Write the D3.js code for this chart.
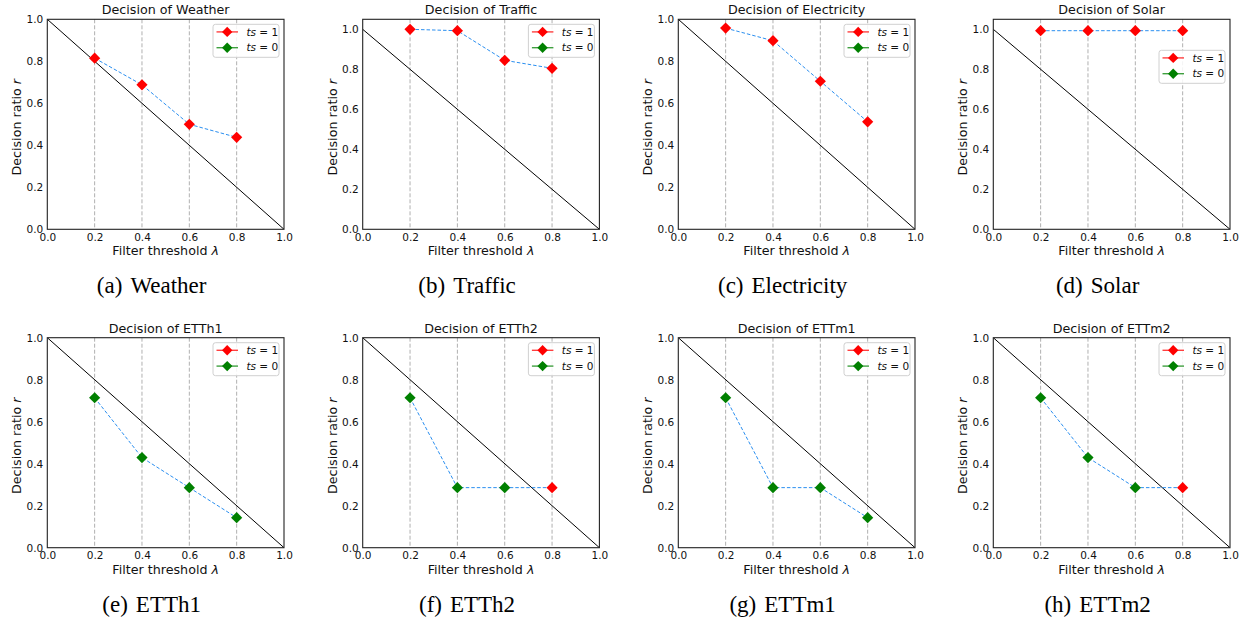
<!DOCTYPE html>
<html>
<head>
<meta charset="utf-8">
<script src="https://cdn.jsdelivr.net/npm/d3@7"></script>
<style>
  html, body { margin: 0; padding: 0; background: #fff; }
  svg { display: block; }
</style>
</head>
<body>
<svg id="chart" width="1247" height="622"></svg>
<script>
// ---------- data ----------
const datasets = ["Weather", "Traffic", "Electricity", "Solar", "ETTh1", "ETTh2", "ETTm1", "ETTm2"];
const letters = ["a", "b", "c", "d", "e", "f", "g", "h"];
const thresholds = [0.2, 0.4, 0.6, 0.8];
const xTicks = [0.0, 0.2, 0.4, 0.6, 0.8, 1.0];
const yTicks = [0.0, 0.2, 0.4, 0.6, 0.8, 1.0];
const yMax = [1.0, 1.05, 1.0, 1.05, 1.0, 1.0, 1.0, 1.0];

const ratioWeather     = [0.815, 0.688, 0.500, 0.438];
const ratioTraffic     = [1.000, 0.993, 0.845, 0.805];
const ratioElectricity = [0.958, 0.898, 0.705, 0.512];
const ratioSolar       = [0.993, 0.993, 0.993, 0.993];
const ratioETTh1       = [0.714, 0.429, 0.286, 0.143];
const ratioETTh2       = [0.714, 0.286, 0.286, 0.286];
const ratioETTm1       = [0.714, 0.286, 0.286, 0.143];
const ratioETTm2       = [0.714, 0.429, 0.286, 0.286];

const tsWeather     = [1, 1, 1, 1];
const tsTraffic     = [1, 1, 1, 1];
const tsElectricity = [1, 1, 1, 1];
const tsSolar       = [1, 1, 1, 1];
const tsETTh1       = [0, 0, 0, 0];
const tsETTh2       = [0, 0, 0, 1];
const tsETTm1       = [0, 0, 0, 0];
const tsETTm2       = [0, 0, 0, 1];

const ratios = [ratioWeather, ratioTraffic, ratioElectricity, ratioSolar, ratioETTh1, ratioETTh2, ratioETTm1, ratioETTm2];
const tsFlags = [tsWeather, tsTraffic, tsElectricity, tsSolar, tsETTh1, tsETTh2, tsETTm1, tsETTm2];
const legendLabels = ["1", "0"];

// ---------- layout ----------
const colLefts = [47.3, 362.7, 678.3, 993.3];
const rowTops = [19.3, 337.7];
const plotW = 236.7, plotH = 210;
const legendTopOffset = [5, 5, 5, 31, 5, 5, 5, 5];
const colorTs = { 1: "#ff0000", 0: "#008000" };
const sansFont = "DejaVu Sans, sans-serif";
const serifFont = "Liberation Serif, Times New Roman, serif";

const svg = d3.select("#chart");
const diamond = r => `M0,${-r}L${r},0L0,${r}L${-r},0Z`;

datasets.forEach((name, i) => {
  const col = i % 4, row = Math.floor(i / 4);
  const left = colLefts[col], top = rowTops[row];
  const x = d3.scaleLinear().domain([0, 1]).range([left, left + plotW]);
  const y = d3.scaleLinear().domain([0, yMax[i]]).range([top + plotH, top]);
  const g = svg.append("g");

  const clipId = "clip" + i;
  g.append("clipPath").attr("id", clipId).append("rect")
    .attr("x", left).attr("y", top).attr("width", plotW).attr("height", plotH);

  // vertical dashed grid
  g.selectAll(".vgrid").data(thresholds).enter().append("line")
    .attr("x1", d => x(d)).attr("x2", d => x(d))
    .attr("y1", top).attr("y2", top + plotH)
    .attr("stroke", "#b0b0b0").attr("stroke-width", 1)
    .attr("stroke-dasharray", "4,2");

  // diagonal reference line
  g.append("line")
    .attr("x1", x(0)).attr("y1", y(1)).attr("x2", x(1)).attr("y2", y(0))
    .attr("stroke", "#000").attr("stroke-width", 1)
    .attr("clip-path", `url(#${clipId})`);

  // dashed connecting line
  const pts = thresholds.map((t, k) => ({ t, r: ratios[i][k], ts: tsFlags[i][k] }));
  g.append("path").datum(pts)
    .attr("d", d3.line().x(d => x(d.t)).y(d => y(d.r)))
    .attr("fill", "none").attr("stroke", "#2b8ff0").attr("stroke-width", 1)
    .attr("stroke-dasharray", "3.5,2");

  // markers
  g.selectAll(".mk").data(pts).enter().append("path")
    .attr("d", diamond(5.6))
    .attr("transform", d => `translate(${x(d.t)},${y(d.r)})`)
    .attr("fill", d => colorTs[d.ts]);

  // frame
  g.append("rect").attr("x", left).attr("y", top).attr("width", plotW).attr("height", plotH)
    .attr("fill", "none").attr("stroke", "#222").attr("stroke-width", 1.1);

  // axes (no tick marks)
  const xAxis = d3.axisBottom(x).tickValues(xTicks).tickFormat(d3.format(".1f")).tickSize(0).tickPadding(4);
  const yAxis = d3.axisLeft(y).tickValues(yTicks).tickFormat(d3.format(".1f")).tickSize(0).tickPadding(4);
  const gx = g.append("g").attr("transform", `translate(0,${top + plotH})`).call(xAxis);
  const gy = g.append("g").attr("transform", `translate(${left},0)`).call(yAxis);
  [gx, gy].forEach(a => {
    a.select(".domain").remove();
    a.selectAll("text").attr("font-family", sansFont).attr("font-size", 10.5).attr("fill", "#111");
  });

  // title
  g.append("text").attr("x", left + plotW / 2).attr("y", top - 5)
    .attr("text-anchor", "middle").attr("font-family", sansFont).attr("font-size", 12.7)
    .attr("fill", "#111").text("Decision of " + name);

  // x label
  const xl = g.append("text").attr("x", left + plotW / 2).attr("y", top + plotH + 26)
    .attr("text-anchor", "middle").attr("font-family", sansFont).attr("font-size", 12.7).attr("fill", "#111");
  xl.append("tspan").text("Filter threshold ");
  xl.append("tspan").attr("font-style", "italic").text("λ");

  // y label
  const yl = g.append("text")
    .attr("transform", `translate(${left - 26},${top + plotH / 2 + 3}) rotate(-90)`)
    .attr("text-anchor", "middle").attr("font-family", sansFont).attr("font-size", 12.7).attr("fill", "#111");
  yl.append("tspan").text("Decision ratio ");
  yl.append("tspan").attr("font-style", "italic").text("r");

  // legend
  const lw = 66, lh = 33;
  const lx = left + plotW - 5 - lw, ly = top + legendTopOffset[i];
  const lg = g.append("g");
  lg.append("rect").attr("x", lx).attr("y", ly).attr("width", lw).attr("height", lh)
    .attr("rx", 2.5).attr("fill", "#fff").attr("fill-opacity", 0.85)
    .attr("stroke", "#d0d0d0").attr("stroke-width", 1);
  legendLabels.forEach((lab, k) => {
    const cy = ly + 7.6 + k * 15.8;
    const c = colorTs[+lab];
    lg.append("line").attr("x1", lx + 3.5).attr("x2", lx + 25).attr("y1", cy).attr("y2", cy)
      .attr("stroke", c).attr("stroke-width", 1.4).attr("stroke-opacity", 0.75);
    lg.append("path").attr("d", diamond(5.2)).attr("transform", `translate(${lx + 14.2},${cy})`).attr("fill", c);
    const t = lg.append("text").attr("x", lx + 33.4).attr("y", cy).attr("dy", "0.36em")
      .attr("font-family", sansFont).attr("font-size", 10.5).attr("fill", "#111");
    t.append("tspan").attr("font-style", "italic").text("ts");
    t.append("tspan").text(" = " + lab);
  });

  // caption
  const cap = svg.append("text").attr("x", left + plotW / 2 - 14).attr("y", top + plotH + 64)
    .attr("text-anchor", "middle").attr("font-family", serifFont).attr("font-size", 23).attr("fill", "#000");
  cap.append("tspan").text("(" + letters[i] + ")");
  cap.append("tspan").attr("dx", 8).text(name);
});
</script>
</body>
</html>
